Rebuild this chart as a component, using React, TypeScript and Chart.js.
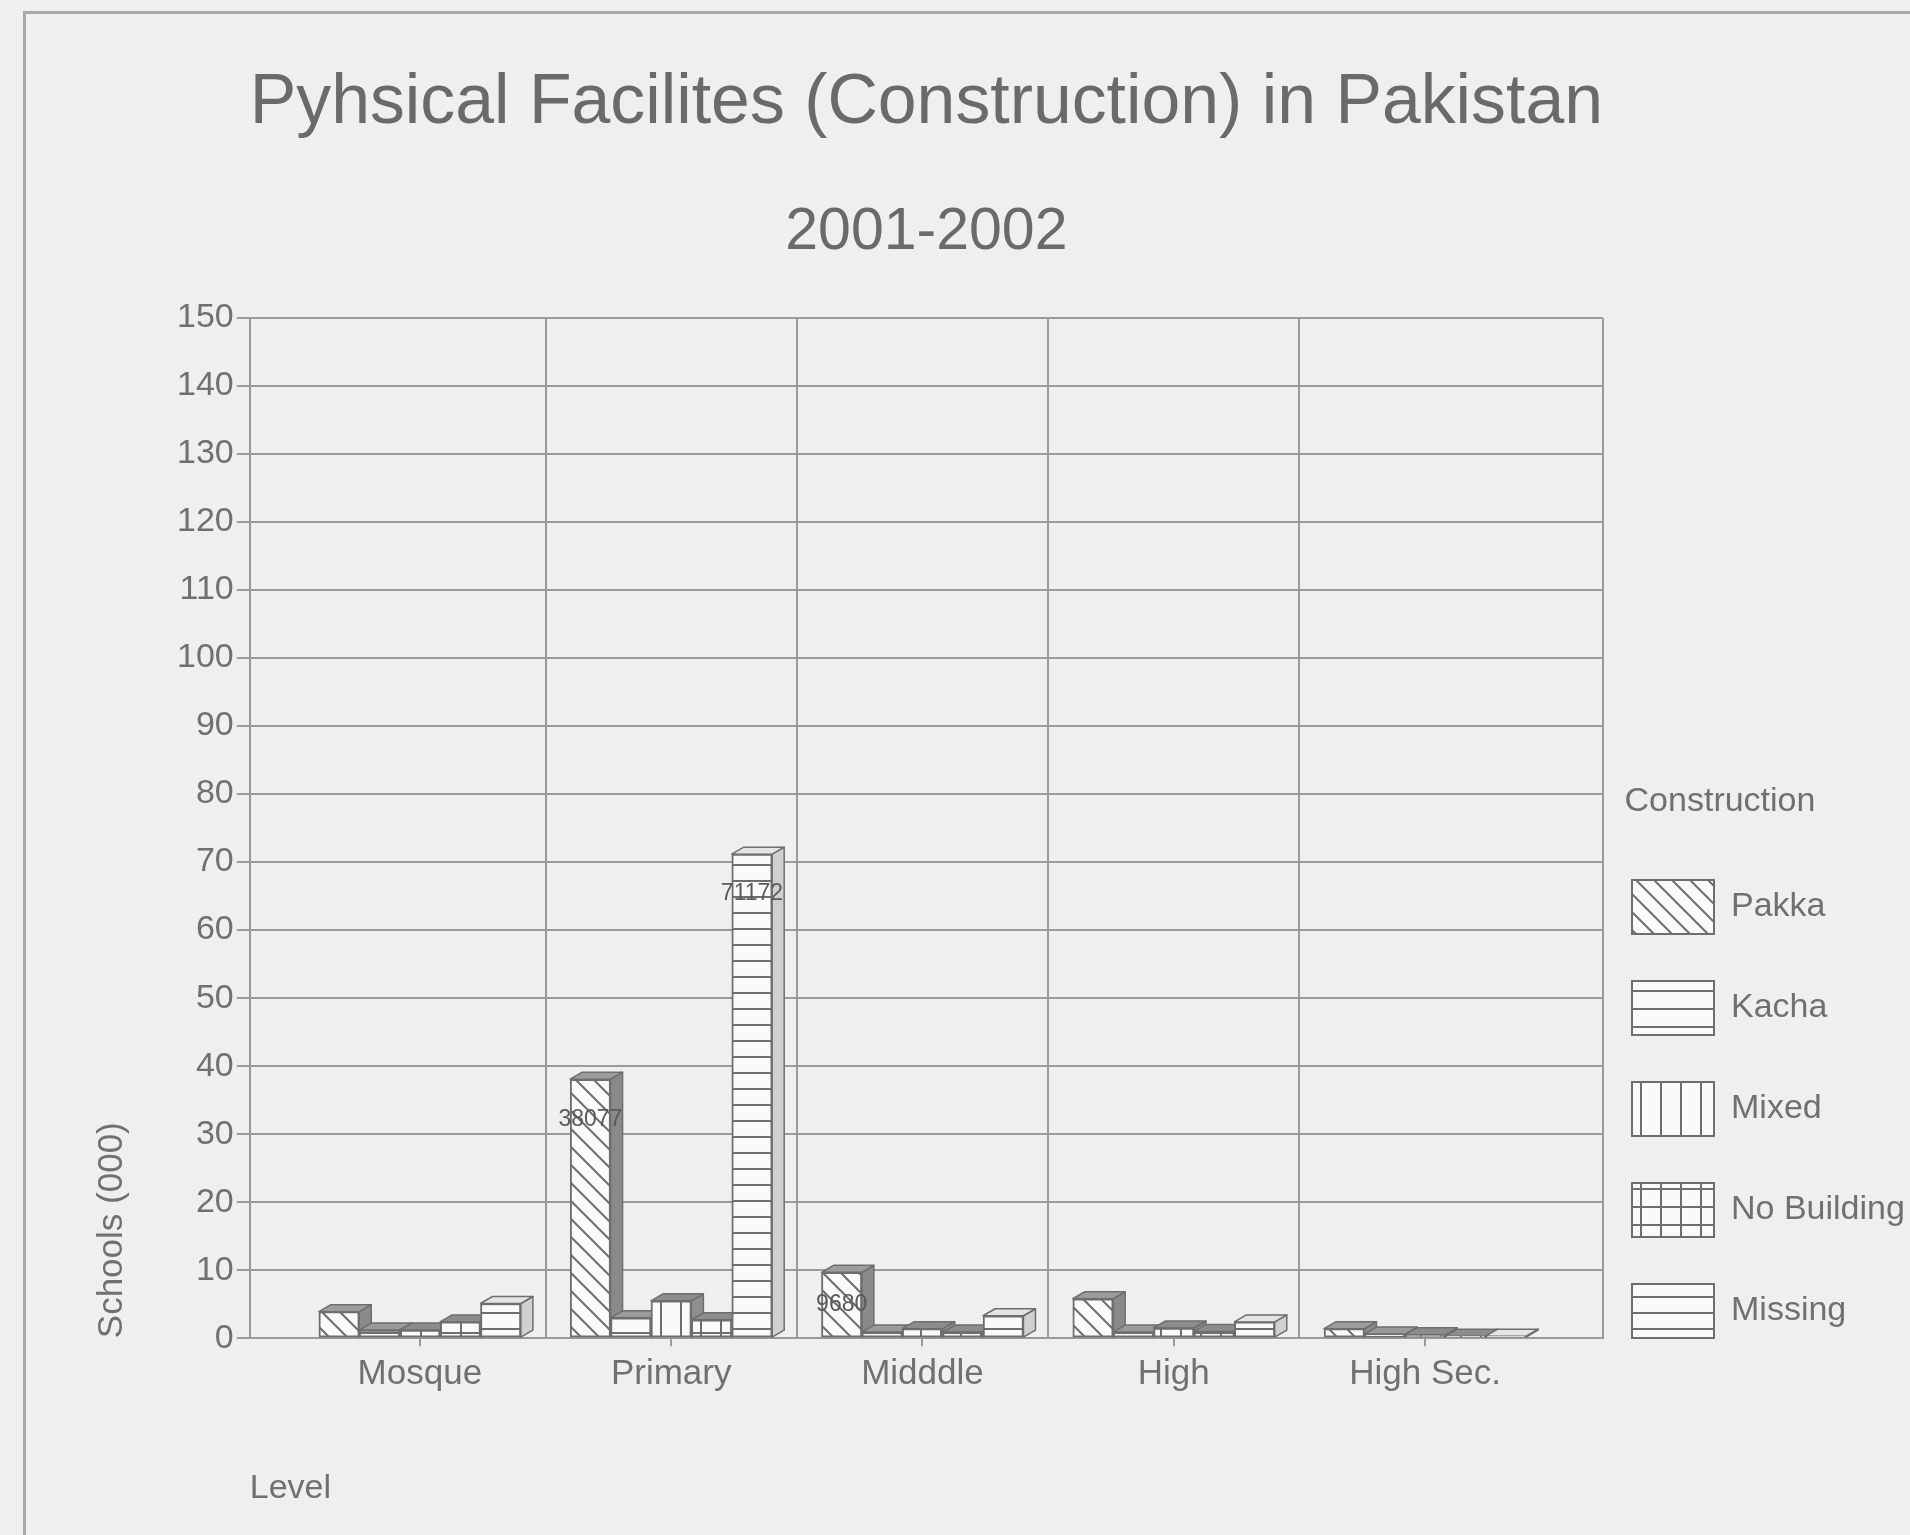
import React, { useEffect, useRef } from 'react';
import { Chart, registerables } from 'chart.js';

Chart.register(...registerables);

// ---------- data ----------
const chartTitle = 'Pyhsical Facilites (Construction) in Pakistan';
const chartSubtitle = '2001-2002';
const categories = ['Mosque', 'Primary', 'Midddle', 'High', 'High Sec.'];
const seriesNames = ['Pakka', 'Kacha', 'Mixed', 'No Building', 'Missing'];
const pakka = [3.9, 38.077, 9.68, 5.8, 1.4];
const kacha = [1.2, 3.0, 0.9, 0.9, 0.6];
const mixed = [1.2, 5.5, 1.4, 1.5, 0.5];
const noBuilding = [2.4, 2.7, 0.9, 1.0, 0.3];
const missing = [5.1, 71.172, 3.3, 2.4, 0.3];
const pakkaLabels = ['', '38077', '9680', '', ''];
const kachaLabels = ['', '', '', '', ''];
const mixedLabels = ['', '', '', '', ''];
const noBuildingLabels = ['', '', '', '', ''];
const missingLabels = ['', '71172', '', '', ''];
const yMin = 0;
const yMax = 150;
const yStep = 10;
const yTitle = 'Schools (000)';
const xTitle = 'Level';
const legendTitle = 'Construction';

const FONT = "'Liberation Sans', Arial, Helvetica, sans-serif";
const TEXT = '#707070';
const GRID = '#9a9a9a';
const LINE = '#6e6e6e';
const BG = '#fafafa';
const DX = 12;
const DY = 7;

type Kind = 'diag' | 'hlines' | 'vlines' | 'grid' | 'hlines2';

function makePattern(kind: Kind): CanvasPattern | string {
  const c = document.createElement('canvas');
  let w = 18;
  let h = 18;
  if (kind === 'hlines') { w = 8; h = 18; }
  if (kind === 'hlines2') { w = 8; h = 16; }
  if (kind === 'vlines') { w = 20; h = 8; }
  if (kind === 'grid') { w = 20; h = 18; }
  c.width = w;
  c.height = h;
  const g = c.getContext('2d');
  if (!g) return BG;
  g.fillStyle = BG;
  g.fillRect(0, 0, w, h);
  g.strokeStyle = LINE;
  g.fillStyle = LINE;
  g.lineWidth = 2;
  if (kind === 'diag') {
    g.beginPath();
    for (const k of [-w, 0, w]) {
      g.moveTo(k - 1, -1);
      g.lineTo(k + w + 1, h + 1);
    }
    g.stroke();
  } else if (kind === 'hlines' || kind === 'hlines2') {
    g.fillRect(0, 0, w, 2);
  } else if (kind === 'vlines') {
    g.fillRect(0, 0, 2, h);
  } else if (kind === 'grid') {
    g.fillRect(0, 0, 2, h);
    g.fillRect(0, 0, w, 2);
  }
  const p = g.createPattern(c, 'repeat');
  return p || BG;
}

const sideColors = ['#8a8a8a', '#8f8f8f', '#8f8f8f', '#8f8f8f', '#d0d0d0'];
const topColors = ['#9c9c9c', '#9a9a9a', '#8c8c8c', '#8c8c8c', '#e4e4e4'];

const bar3dPlugin = {
  id: 'bar3d',
  beforeDatasetsDraw(chart: any) {
    const ctx = chart.ctx;
    ctx.save();
    ctx.lineWidth = 1.5;
    ctx.strokeStyle = LINE;
    ctx.lineJoin = 'round';
    chart.data.datasets.forEach((_ds: any, di: number) => {
      const meta = chart.getDatasetMeta(di);
      meta.data.forEach((bar: any) => {
        const p = bar.getProps(['x', 'y', 'base', 'width'], true);
        const l = p.x - p.width / 2;
        const r = p.x + p.width / 2;
        const top = Math.min(p.y, p.base);
        const base = Math.max(p.y, p.base);
        ctx.beginPath();
        ctx.moveTo(r, top);
        ctx.lineTo(r + DX, top - DY);
        ctx.lineTo(r + DX, base - DY);
        ctx.lineTo(r, base);
        ctx.closePath();
        ctx.fillStyle = sideColors[di];
        ctx.fill();
        ctx.stroke();
        ctx.beginPath();
        ctx.moveTo(l, top);
        ctx.lineTo(l + DX, top - DY);
        ctx.lineTo(r + DX, top - DY);
        ctx.lineTo(r, top);
        ctx.closePath();
        ctx.fillStyle = topColors[di];
        ctx.fill();
        ctx.stroke();
      });
    });
    ctx.restore();
  },
};

const valueLabelPlugin = {
  id: 'valueLabels',
  afterDatasetsDraw(chart: any) {
    const ctx = chart.ctx;
    ctx.save();
    ctx.font = `23px ${FONT}`;
    ctx.fillStyle = '#5a5a5a';
    ctx.textAlign = 'center';
    ctx.textBaseline = 'middle';
    chart.data.datasets.forEach((ds: any, di: number) => {
      const meta = chart.getDatasetMeta(di);
      meta.data.forEach((bar: any, i: number) => {
        const txt = ds.valueLabels[i];
        if (!txt) return;
        const p = bar.getProps(['x', 'y', 'base'], true);
        const y = Math.min(p.y + 40, (p.y + p.base) / 2);
        ctx.fillText(txt, p.x, y);
      });
    });
    ctx.restore();
  },
};

const legendPlacePlugin = {
  id: 'legendPlace',
  beforeDraw(chart: any) {
    const lg = chart.legend;
    if (!lg) return;
    lg.left = 1585;
    lg.width = 270;
    lg.right = 1910;
    lg.bottom = 1385;
  },
};

export default function App() {
  const ref = useRef<HTMLCanvasElement | null>(null);

  useEffect(() => {
    if (!ref.current) return;
    const pats = [
      makePattern('diag'),
      makePattern('hlines'),
      makePattern('vlines'),
      makePattern('grid'),
      makePattern('hlines2'),
    ];
    const series = [pakka, kacha, mixed, noBuilding, missing];
    const labels = [pakkaLabels, kachaLabels, mixedLabels, noBuildingLabels, missingLabels];
    const xMin = -0.677;
    const xMax = 4.708;

    const chart = new Chart(ref.current, {
      type: 'bar',
      data: {
        datasets: series.map((vals, si) => ({
          label: seriesNames[si],
          data: vals.map((v, i) => ({ x: i, y: v })),
          backgroundColor: pats[si] as any,
          borderColor: LINE,
          borderWidth: 2,
          borderSkipped: false,
          barThickness: 40.4,
          valueLabels: labels[si],
        })) as any,
      },
      options: {
        responsive: false,
        animation: false,
        devicePixelRatio: 1,
        events: [],
        layout: { padding: { left: 91, right: 0, top: 0, bottom: 26 } },
        scales: {
          x: {
            type: 'linear',
            min: xMin,
            max: xMax,
            offset: false,
            afterBuildTicks: (scale: any) => {
              const t = [xMin];
              for (let i = 0; i < categories.length; i++) {
                t.push(i);
                if (i < categories.length - 1) t.push(i + 0.5);
              }
              t.push(xMax);
              scale.ticks = t.map((v) => ({ value: v }));
            },
            ticks: {
              autoSkip: false,
              maxRotation: 0,
              minRotation: 0,
              padding: 7,
              color: TEXT,
              font: { size: 35, family: FONT },
              callback: (v: any) => (Number.isInteger(v) ? categories[v] : ''),
            },
            grid: {
              offset: false,
              lineWidth: 2,
              tickLength: 8,
              color: (c: any) => (c.tick && !Number.isInteger(c.tick.value) ? GRID : 'rgba(0,0,0,0)'),
              tickColor: (c: any) => (c.tick && Number.isInteger(c.tick.value) ? GRID : 'rgba(0,0,0,0)'),
            },
            border: { display: true, color: GRID, width: 2 },
            title: {
              display: true,
              text: xTitle,
              align: 'start',
              color: TEXT,
              font: { size: 34, family: FONT },
              padding: { top: 66, bottom: 0 },
            },
          },
          y: {
            min: yMin,
            max: yMax,
            ticks: {
              stepSize: yStep,
              padding: 3,
              color: TEXT,
              font: { size: 34, family: FONT },
            },
            grid: { color: GRID, lineWidth: 2, tickLength: 13, tickColor: GRID },
            border: { display: true, color: GRID, width: 2 },
            title: {
              display: true,
              text: yTitle,
              align: 'start',
              color: TEXT,
              font: { size: 35, family: FONT },
              padding: { top: 0, bottom: 41 },
            },
          },
        },
        plugins: {
          title: {
            display: true,
            text: chartTitle,
            fullSize: false,
            color: '#6a6a6a',
            font: { size: 71, family: FONT, weight: 'normal' },
            padding: { top: 61, bottom: 51 },
          },
          subtitle: {
            display: true,
            text: chartSubtitle,
            fullSize: false,
            color: '#6a6a6a',
            font: { size: 59, family: FONT, weight: 'normal' },
            padding: { top: 0, bottom: 50 },
          },
          legend: {
            display: true,
            position: 'right',
            align: 'end',
            maxWidth: 307,
            title: {
              display: true,
              text: legendTitle,
              color: TEXT,
              font: { size: 34, family: FONT },
              padding: { top: 0, bottom: 8 },
            },
            labels: {
              boxWidth: 82,
              boxHeight: 54,
              padding: 47,
              color: TEXT,
              font: { size: 34, family: FONT },
            },
          },
          tooltip: { enabled: false },
        },
      } as any,
      plugins: [bar3dPlugin, valueLabelPlugin, legendPlacePlugin],
    });
    return () => chart.destroy();
  }, []);

  return (
    <div style={{ position: 'fixed', left: 0, top: 0, width: 1910, height: 1535, background: '#efefef', overflow: 'hidden' }}>
      <div style={{ position: 'absolute', left: 23, top: 11, width: 1950, height: 1600, border: '3px solid #a9a9a9', boxSizing: 'border-box' }} />
      <canvas ref={ref} width={1910} height={1535} style={{ position: 'absolute', left: 0, top: 0 }} />
    </div>
  );
}
